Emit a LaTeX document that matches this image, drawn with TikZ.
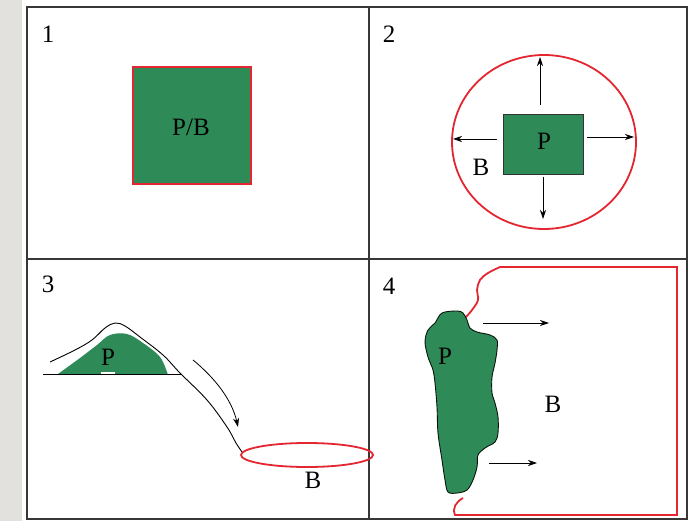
\documentclass[tikz,border=0pt]{standalone}
\usepackage{fontspec}
\setmainfont{Liberation Serif}
\usetikzlibrary{arrows.meta}
\definecolor{pgreen}{RGB}{46,139,87}
\definecolor{pred}{RGB}{228,38,48}
\definecolor{stripgray}{RGB}{226,225,222}
\definecolor{framegray}{RGB}{55,55,55}
\tikzset{
  lbl/.style={font=\fontsize{25}{29}\selectfont, inner sep=0pt, text=black},
  redline/.style={draw=pred, line width=1.8pt},
  arr/.style={-{Stealth[length=9pt,width=6pt]}, line width=0.8pt, black},
  thinblack/.style={draw=black, line width=0.9pt},
}
\begin{document}
\begin{tikzpicture}[x=1pt,y=-1pt]
\useasboundingbox (0,0) rectangle (693,521);
\fill[white] (0,0) rectangle (693,521);
\fill[stripgray] (0,0) rectangle (22,521);
% frame
\draw[framegray, line width=1.2pt] (369,7) -- (369,519);
\draw[framegray, line width=1.2pt] (27,259) -- (687,259);
\draw[framegray, line width=2pt] (27,7) rectangle (687,519);
% numbers
\node[lbl] (n1) at (48,34) {1};
\node[lbl] (n2) at (389,34) {2};
\node[lbl] (n3) at (48,284) {3};
\node[lbl] (n4) at (389,286) {4};
% panel 1
\draw[redline, fill=pgreen] (133,67) rectangle (251,184);
\node[lbl] (pb) at (191,127) {P/B};
% panel 2
\draw[redline] (544,142) ellipse [x radius=92, y radius=87];
\draw[draw=black!80, line width=0.7pt, fill=pgreen] (503,114) rectangle (583,174);
\node[lbl] (p2) at (544,141) {P};
\node[lbl] (b2) at (481,167) {B};
\coordinate (u0) at (540,105); \coordinate (u1) at (540,57);
\coordinate (l0) at (497,139); \coordinate (l1) at (453,139);
\coordinate (r0) at (587,137); \coordinate (r1) at (634,137);
\coordinate (d0) at (543,177); \coordinate (d1) at (543,219);
\draw[arr] (u0) -- (u1);
\draw[arr] (l0) -- (l1);
\draw[arr] (r0) -- (r1);
\draw[arr] (d0) -- (d1);
% panel 3
\fill[pgreen] plot[smooth,tension=0.6] coordinates {(58,374) (80,358) (97,345) (110,335) (127,334) (143,343) (160,357) (168,375)} -- cycle;
\fill[white] (101,371.5) rectangle (115,374);
\draw[thinblack] (43,374) -- (182,374);
\draw[thinblack] plot[smooth,tension=0.6] coordinates {(50,362) (75,350) (92,340) (105,328) (115,323) (125,326) (140,337) (163,355) (180,373) (207,400) (227,427) (236,443) (242,452)};
\node[lbl] (p3) at (108,357) {P};
\coordinate (c0) at (193,360); \coordinate (c1) at (238,427);
\draw[arr] (c0) .. controls (215,378) and (232,400) .. (c1);
\draw[redline] (307,455) ellipse [x radius=66, y radius=12];
\node[lbl] (b3) at (313,480) {B};
% panel 4
\draw[redline] plot[smooth,tension=0.6] coordinates {(465,318) (472,310) (478,300) (477,290) (480,280) (488,273) (500,267)} -- (677,267) -- (677,515) -- (455,515) .. controls (452,508) and (456,502) .. (463,498);
\draw[draw=black!85!pgreen, line width=0.9pt, fill=pgreen] plot[smooth cycle,tension=0.55] coordinates {
(442,313) (457,311) (463,313) (467,320) (470,328) (477,332) (490,335) (497,340) (497,350) (495,363) (492,377) (492,393) (495,403) (498,417) (498,433) (495,442) (485,448) (478,455) (477,467) (473,480) (467,490) (457,493) (448,492) (445,480) (442,460) (438,433) (437,407) (435,383) (433,370) (428,357) (425,342) (428,330) (435,323)};
\node[lbl] (p4) at (445,356) {P};
\node[lbl] (b4) at (553,404) {B};
\coordinate (a0) at (483,323); \coordinate (a1) at (549,323);
\coordinate (e0) at (489,463); \coordinate (e1) at (537,463);
\draw[arr] (a0) -- (a1);
\draw[arr] (e0) -- (e1);
\end{tikzpicture}
\end{document}
